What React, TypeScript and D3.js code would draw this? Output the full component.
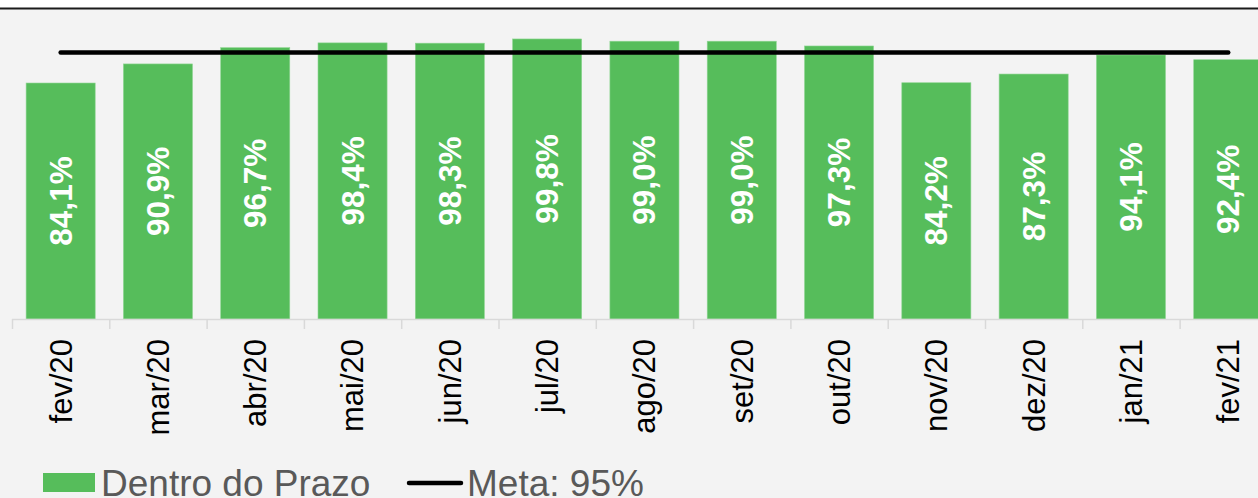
import React from "react";
import * as d3 from "d3";

const months = ["fev/20", "mar/20", "abr/20", "mai/20", "jun/20", "jul/20", "ago/20", "set/20", "out/20", "nov/20", "dez/20", "jan/21", "fev/21"];
const dentroDoPrazo = [84.1, 90.9, 96.7, 98.4, 98.3, 99.8, 99.0, 99.0, 97.3, 84.2, 87.3, 94.1, 92.4];
const meta = [95, 95, 95, 95, 95, 95, 95, 95, 95, 95, 95, 95, 95];

const W = 1258;
const H = 498;
const green = "#56bd5b";
const font = "'Liberation Sans', Arial, sans-serif";

const App = () => {
  const step = 97.3;
  const left = 12;
  const baseY = 319;

  const x = d3
    .scaleBand<string>()
    .domain(months)
    .range([left, left + step * months.length])
    .paddingInner(0.29)
    .paddingOuter(0.145);

  // band boundaries for the tick marks
  const xb = d3.scaleBand<string>().domain(months).range([left, left + step * months.length]).padding(0);

  const y = d3.scaleLinear().domain([0, 100]).range([baseY, 38.4]);

  const line = d3
    .line<number>()
    .x((_, i) => (xb(months[i]) as number) + xb.bandwidth() / 2)
    .y((d) => y(d));

  const fmt = (v: number) => v.toFixed(1).replace(".", ",") + "%";

  return (
    <svg width={W} height={H} style={{ position: "absolute", left: 0, top: 0 }} fontFamily={font}>
      <rect x={0} y={0} width={W} height={H} fill="#ffffff" />
      <rect x={0} y={9} width={W} height={H - 9} fill="#f3f3f3" />
      <line x1={0} x2={W} y1={8.5} y2={8.5} stroke="#1a1a1a" strokeWidth={2} />

      {months.map((m, i) => {
        const bx = x(m) as number;
        const v = dentroDoPrazo[i];
        const cx = bx + x.bandwidth() / 2;
        const cy = (y(v) + baseY) / 2;
        return (
          <g key={m}>
            <rect x={bx} y={y(v)} width={x.bandwidth()} height={baseY - y(v)} fill={green} stroke="#8fd693" strokeWidth={0.6} />
            <text
              transform={`translate(${cx},${cy}) rotate(-90)`}
              textAnchor="middle"
              dy="0.35em"
              fill="#ffffff"
              fontWeight="bold"
              fontSize={31.5}
            >
              {fmt(v)}
            </text>
          </g>
        );
      })}

      {/* x axis */}
      <line x1={left} x2={W} y1={baseY + 0.5} y2={baseY + 0.5} stroke="#d9d9d9" strokeWidth={1.5} />
      {months.map((m) => (
        <line
          key={"t" + m}
          x1={(xb(m) as number) + 0.5}
          x2={(xb(m) as number) + 0.5}
          y1={baseY}
          y2={baseY + 10}
          stroke="#d9d9d9"
          strokeWidth={1.5}
        />
      ))}
      {months.map((m) => (
        <text
          key={"l" + m}
          transform={`translate(${(xb(m) as number) + xb.bandwidth() / 2},339) rotate(-90)`}
          textAnchor="end"
          dy="0.35em"
          fill="#000000"
          fontSize={31}
        >
          {m}
        </text>
      ))}

      {/* meta */}
      <path d={line(meta) as string} fill="none" stroke="#000000" strokeWidth={4.5} strokeLinecap="round" />

      {/* legend */}
      <rect x={43} y={473} width={52} height={19} fill={green} />
      <text x={101} y={496} fontSize={37} fill="#595959">
        Dentro do Prazo
      </text>
      <line x1={409} x2={461} y1={483} y2={483} stroke="#000000" strokeWidth={4.5} strokeLinecap="round" />
      <text x={467} y={496} fontSize={37} fill="#595959">
        Meta: 95%
      </text>
    </svg>
  );
};

export default App;
